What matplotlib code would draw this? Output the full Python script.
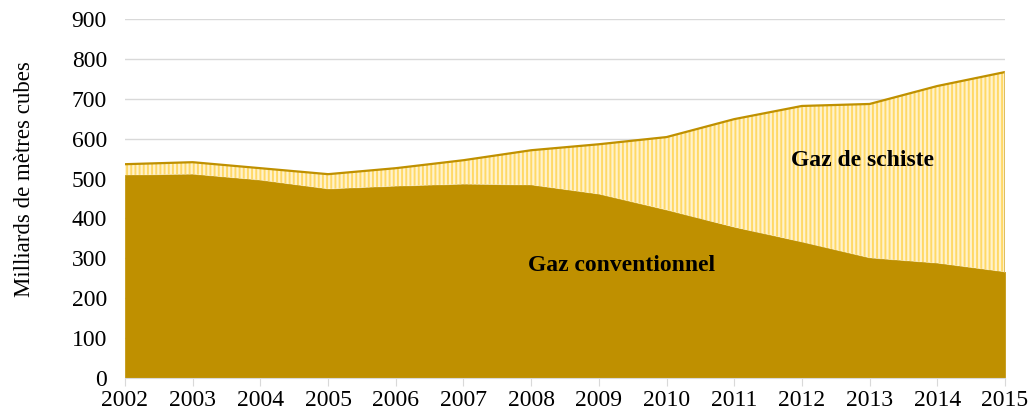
import numpy as np
import matplotlib.pyplot as plt

plt.rcParams['font.family'] = ['Liberation Serif', 'DejaVu Serif']
plt.rcParams['hatch.linewidth'] = 1.4

years = np.arange(2002, 2016)
conventionnel = [509, 511, 496, 474, 481, 486, 484, 461, 421, 378, 341, 301, 288, 266]
schiste = [27, 30, 30, 37, 45, 60, 87, 125, 183, 271, 341, 386, 444, 501]

conv = np.array(conventionnel)
total = conv + np.array(schiste)

fig = plt.figure(figsize=(10.35, 4.18), dpi=100)
ax = fig.add_axes([125/1035, 40/418, 880/1035, 359/418])

ax.fill_between(years, 0, conv, facecolor='#BF9000', edgecolor='#BF9000', lw=0.5, zorder=2)
ax.fill_between(years, conv, total, facecolor='#FFF2CC', edgecolor='#FFD966', hatch='||||', lw=0, zorder=2)
ax.plot(years, total, color='#BF9000', lw=1.6, zorder=3)
ax.plot([years[-1], years[-1]], [conv[-1], total[-1]], color='#D9B44A', lw=1.2, zorder=3)

ax.set_xlim(2002, 2015)
ax.set_ylim(0, 900)
ax.set_yticks(range(0, 901, 100))
ax.set_xticks(years)
ax.grid(axis='y', color='#D9D9D9', lw=1, zorder=0)
ax.set_axisbelow(True)
for s in ['top', 'right', 'left']:
    ax.spines[s].set_visible(False)
ax.spines['bottom'].set_color('#D9D9D9')
ax.tick_params(axis='x', length=6, color='#D9D9D9', labelsize=17, pad=3)
ax.tick_params(axis='y', length=0, labelsize=17, pad=13)
ax.set_ylabel('Milliards de mètres cubes', fontsize=16.5, va='center')
ax.yaxis.set_label_coords(-0.114, 0.553)

ax.text(2012.9, 546, 'Gaz de schiste', fontsize=17, fontweight='bold', ha='center', va='center', zorder=4)
ax.text(2009.33, 283, 'Gaz conventionnel', fontsize=17, fontweight='bold', ha='center', va='center', zorder=4)

fig.savefig('out.png', dpi=100)
